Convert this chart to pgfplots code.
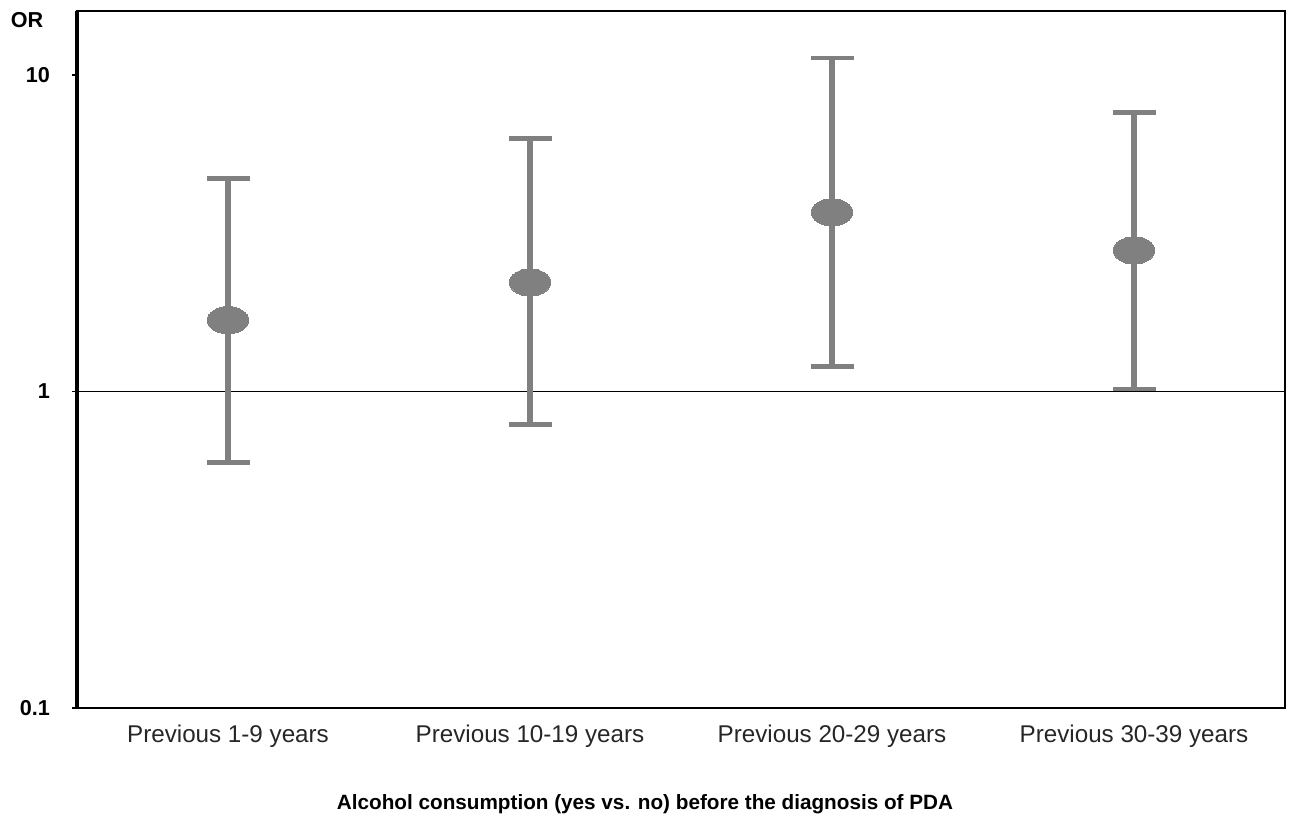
\documentclass[border=0pt]{standalone}
\usepackage{pgfplots}
\pgfplotsset{compat=1.18}
\usepackage{fontspec}
\setmainfont{Liberation Sans}
\definecolor{bargray}{HTML}{808080}
\definecolor{txtgray}{HTML}{262626}
\begin{document}
\begin{tikzpicture}
\useasboundingbox (-38.5pt,-56.5pt) rectangle (606pt,354pt);
\begin{axis}[
  at={(0,0)}, anchor=south west,
  scale only axis,
  width=604pt, height=348.5pt,
  ymode=log,
  xmin=-0.5, xmax=3.5,
  ymin=0.1, ymax=15.93,
  unbounded coords=jump,
  xtick={0,1,2,3},
  xticklabels={Previous 1-9 years, Previous 10-19 years, Previous 20-29 years, Previous 30-39 years},
  major x tick style={draw=none},
  ytick={0.1,1,10},
  yticklabels={0.1,1,10},
  minor ytick={},
  yminorticks=false,
  ytick pos=left,
  tick align=outside,
  major tick length=2.5pt,
  major y tick style={line width=0.8pt, black},
  axis line style={line width=0.8pt},
  /pgf/number format/assume math mode=true,
  xticklabel style={font=\fontsize{12.1}{14}\selectfont, text=txtgray, yshift=-2.5pt},
  yticklabel style={font=\fontsize{10.8}{13}\selectfont\bfseries, xshift=-7.5pt},
  xlabel={Alcohol consumption (yes vs. no) before the diagnosis of PDA},
  every axis x label/.style={at={(rel axis cs:0.5,0)}, anchor=center, xshift=-18pt, yshift=-48pt, font=\fontsize{10.35}{13}\selectfont\bfseries},
  ylabel={OR},
  every axis y label/.style={at={(rel axis cs:0,1)}, anchor=center, xshift=-25pt, yshift=-4.5pt, font=\fontsize{10.8}{13}\selectfont\bfseries},
  clip=false,
]
\addplot[black, line width=0.9pt] coordinates {(-0.5,1) (3.5,1)};
\draw[line width=1.6pt] (rel axis cs:0,0) -- (rel axis cs:0,1);
\draw[line width=1.1pt] (rel axis cs:1,0) -- (rel axis cs:1,1);
% confidence intervals (lower, upper)
\addplot[bargray, line width=2.85pt, mark=-, mark size=10.75pt, mark options={line width=2.25pt, bargray}] coordinates {
  (0,0.597) (0,4.71)
  (0,nan)
  (1,0.787) (1,6.30)
  (1,nan)
  (2,1.20) (2,11.3)
  (2,nan)
  (3,1.02) (3,7.61)
};
% odds ratios
\addplot[bargray, only marks, mark=*, mark size=6.8pt, mark options={xscale=1.52, fill=bargray, draw=bargray, line width=0pt}] coordinates {
  (0,1.68) (1,2.21) (2,3.68) (3,2.79)
};
\end{axis}
\end{tikzpicture}
\end{document}
